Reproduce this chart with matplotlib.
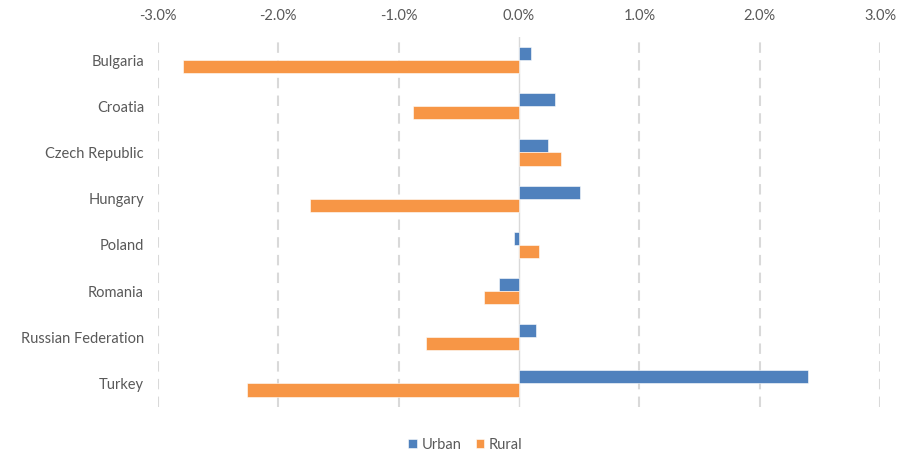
import matplotlib.pyplot as plt
import numpy as np
from matplotlib.ticker import FuncFormatter

countries = ["Bulgaria", "Croatia", "Czech Republic", "Hungary",
             "Poland", "Romania", "Russian Federation", "Turkey"]
urban = [0.10, 0.30, 0.24, 0.51, -0.04, -0.17, 0.14, 2.40]
rural = [-2.79, -0.88, 0.35, -1.74, 0.17, -0.29, -0.77, -2.26]
ticks = [-3.0, -2.0, -1.0, 0.0, 1.0, 2.0, 3.0]

plt.rcParams['font.family'] = ['Lato', 'DejaVu Sans']

fig = plt.figure(figsize=(9.16, 4.53), dpi=100)
ax = fig.add_axes([0.1725, 0.1026, 0.7882, 0.8157])

y = np.arange(len(countries))
h = 0.285
ax.barh(y - h / 2, urban, height=h, color='#4F81BD', edgecolor='white',
        linewidth=0.4, label='Urban', zorder=3)
ax.barh(y + h / 2, rural, height=h, color='#F79646', edgecolor='white',
        linewidth=0.4, label='Rural', zorder=3)

ax.set_xlim(-3.0, 3.0)
ax.set_ylim(len(countries) - 0.5, -0.5)
ax.set_xticks(ticks)
ax.xaxis.set_major_formatter(FuncFormatter(lambda v, p: f"{v:.1f}%"))
ax.xaxis.tick_top()
ax.set_yticks(y)
ax.set_yticklabels(countries)
ax.tick_params(axis='both', length=0, colors='#595959', labelsize=10.5)
ax.tick_params(axis='y', pad=10)
ax.tick_params(axis='x', pad=10)

for t in ticks:
    if t == 0:
        ax.axvline(t, color='#D9D9D9', linewidth=1.0, zorder=2)
    else:
        ax.axvline(t, color='#D9D9D9', linewidth=1.5, dashes=(5, 3.5), zorder=1)

for s in ax.spines.values():
    s.set_visible(False)

fig.legend(loc='center', bbox_to_anchor=(0.508, 0.018), ncol=2, frameon=False,
           fontsize=10.5, handlelength=0.6, handleheight=0.6, handletextpad=0.3,
           columnspacing=1.0, labelcolor='#595959')

fig.savefig('out.png', dpi=100)
